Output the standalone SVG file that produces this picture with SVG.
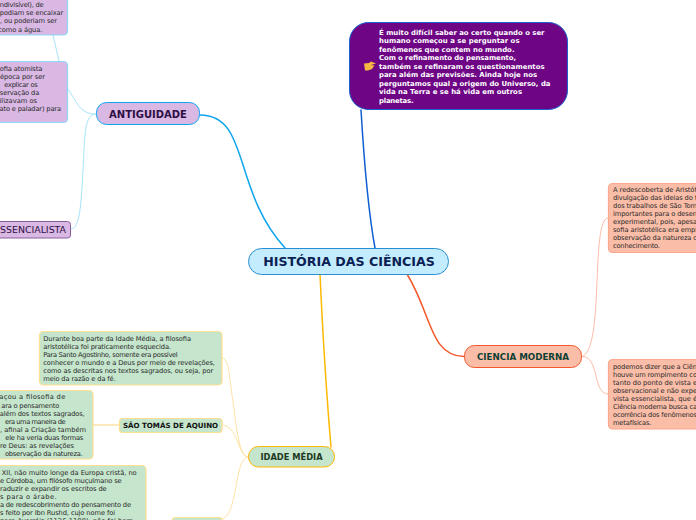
<svg xmlns="http://www.w3.org/2000/svg" width="696" height="520" viewBox="0 0 696 520">
<style>
text{font-family:"DejaVu Sans","Liberation Sans",sans-serif}
.c{fill:none;stroke-linecap:round}
.b{font-size:6.7px;fill:#2b2b2b}
.e{text-anchor:end}
.g{fill:#c5e5cc;stroke:#ffdf90;stroke-width:1.200}
.p{fill:#d9b8e3;stroke:#8fd8f8;stroke-width:1.200}
.o{fill:#fabda8;stroke:#fca88e;stroke-width:1.200}
.m{text-anchor:middle;font-weight:bold}
</style>
<rect width="696" height="520" fill="#fff"/>
<g id="connectors">
<path class="c" stroke="#0ea5ee" stroke-width="1.500" d="M200,115 C250,115 232,190 285,248"/>
<path class="c" stroke="#0d5fd0" stroke-width="1.500" d="M361,110 C364,160 368,210 375,248"/>
<path class="c" stroke="#ffb800" stroke-width="1.500" d="M320,274 C323,340 327,400 331,447"/>
<path class="c" stroke="#f4582a" stroke-width="1.500" d="M407,274 C432,315 430,356 464,356.500"/>
<g stroke="#a5e3fa" stroke-width="1">
<path class="c" d="M53,35 L59,61"/>
<path class="c" d="M96,114 C80,114 78,104 68,89"/>
<path class="c" d="M96,114 C84,114 85,135 83,170 C81,205 80,229 71,229"/>
</g>
<g stroke="#ffe2a6" stroke-width="1">
<path class="c" d="M248,457 C238,457 236,420 232,395 C229,375 229,358 222,358"/>
<path class="c" d="M248,457 C238,457 238,425 222,425"/>
<path class="c" d="M248,457 C234,457 238,517 222,519"/>
<path class="c" stroke-width="1.500" d="M119,425 L93,425"/>
</g>
<g stroke="#fdbda9" stroke-width="1">
<path class="c" d="M582,356.500 C605,350 590,218 608,218"/>
<path class="c" d="M582,356.500 C600,356 592,394 608,394"/>
</g>
</g>
<g id="central">
<rect x="248.500" y="248.500" width="200" height="26" rx="13" fill="#c4ecff" stroke="#2a8fd0"/>
<text class="m" x="349" y="266" font-size="12.600" fill="#0b2154">HISTÓRIA DAS CIÊNCIAS</text>
</g>
<g id="antiguidade">
<rect x="96.500" y="102.500" width="103" height="22" rx="10" fill="#d9b8e3" stroke="#0ea5ee"/>
<text class="m" x="148" y="118" font-size="10" fill="#2d0f45">ANTIGUIDADE</text>
</g>
<g id="nota-roxa">
<rect x="349.500" y="22.500" width="218" height="87" rx="19" fill="#6d0585" stroke="#1a60d0"/>
<path fill="#f5b942" d="M364,63.500 L369,63 L371,61.500 L376,63.500 L371,65 L374.500,65.500 L372,69 L368,70.500 L365,70.500 Z"/>
<g font-size="6.900" font-weight="bold" fill="#fff">
<text x="379" y="35" textLength="165.500">É muito difícil saber ao certo quando o ser</text>
<text x="379" y="43.300" textLength="140.500">humano começou a se perguntar os</text>
<text x="379" y="51.700" textLength="135.500">fenômenos que contem no mundo.</text>
<text x="379" y="60" textLength="137">Com o refinamento do pensamento,</text>
<text x="379" y="68.700" textLength="165.500">também se refinaram os questionamentos</text>
<text x="379" y="77.300" textLength="158">para além das previsões. Ainda hoje nos</text>
<text x="379" y="86" textLength="171.500">perguntamos qual a origem do Universo, da</text>
<text x="379" y="94.400" textLength="143">vida na Terra e se há vida em outros</text>
<text x="379" y="103" textLength="34.500">planetas.</text>
</g>
</g>
<g id="atomos">
<rect x="-20" y="-20" width="87.500" height="55" rx="4" class="p"/>
<g class="b">
<text class="e" x="43.700" y="7" textLength="44">ndivisível), de</text>
<text class="e" x="63.300" y="15" textLength="63.500">podiam se encaixar</text>
<text class="e" x="57" y="23" textLength="57">, ou poderiam ser</text>
<text class="e" x="42.300" y="31.500" textLength="44">como a água.</text>
</g>
</g>
<g id="atomista">
<rect x="-20" y="61.500" width="87.500" height="61" rx="4" class="p"/>
<g class="b">
<text class="e" x="42.300" y="71.200" textLength="42.500">ofia atomista</text>
<text class="e" x="45" y="79.200" textLength="45">época por ser</text>
<text class="e" x="37.700" y="87.200" textLength="33.500">explicar os</text>
<text class="e" x="39.300" y="95.200" textLength="39.500">servação da</text>
<text class="e" x="37" y="103.200" textLength="37.500">ilizavam os</text>
<text class="e" x="61" y="111.200" textLength="61.500">ato e paladar) para</text>
</g>
</g>
<g id="essencialista">
<rect x="-20" y="221.500" width="90.500" height="16.500" rx="3" fill="#d9b8e3" stroke="#8a5f9c"/>
<text class="e" x="66" y="233" font-size="9.400" fill="#2d0f45">SSENCIALISTA</text>
</g>
<g id="idade-media">
<rect x="248.500" y="446.500" width="86" height="20.500" rx="10" fill="#c5e5cc" stroke="#ffb800"/>
<text class="m" x="291.500" y="460" font-size="8.300" fill="#1c3a24">IDADE MÉDIA</text>
</g>
<g id="agostinho">
<rect x="39.500" y="331.500" width="182.500" height="53.500" rx="4" class="g"/>
<g class="b">
<text x="43.300" y="341" textLength="147.700">Durante boa parte da Idade Média, a filosofia</text>
<text x="43.300" y="349" textLength="127.700">aristotélica foi praticamente esquecida.</text>
<text x="43.300" y="357" textLength="134.400">Para Santo Agostinho, somente era possível</text>
<text x="43.300" y="365" textLength="171.700">conhecer o mundo e a Deus por meio de revelações,</text>
<text x="43.300" y="373" textLength="170">como as descritas nos textos sagrados, ou seja, por</text>
<text x="43.300" y="381" textLength="72.400">meio da razão e da fé.</text>
</g>
</g>
<g id="sao-tomas">
<rect x="119.500" y="418.500" width="102.500" height="14" rx="3" class="g"/>
<text class="m" x="170.500" y="428" font-size="7.100" fill="#111">SÃO TOMÁS DE AQUINO</text>
</g>
<g id="tomas-texto">
<rect x="-20" y="390.500" width="113" height="68.500" rx="4" class="g"/>
<g class="b">
<text class="e" x="65.300" y="399.200" textLength="66">açou a filosofia de</text>
<text class="e" x="59.300" y="407.800" textLength="58">ara o pensamento</text>
<text class="e" x="84.700" y="415.800" textLength="85">além dos textos sagrados,</text>
<text class="e" x="65.700" y="423.800" textLength="60.700">era uma maneira de</text>
<text class="e" x="86" y="431.800" textLength="86">, afinal a Criação também</text>
<text class="e" x="83.300" y="439.800" textLength="78">ele ha veria duas formas</text>
<text class="e" x="74" y="447.800" textLength="74">re Deus: as revelações</text>
<text class="e" x="82.700" y="456.200" textLength="77.700">observação da natureza.</text>
</g>
</g>
<g id="averrois">
<rect x="-20" y="465.500" width="166" height="70" rx="4" class="g"/>
<g class="b">
<text class="e" x="136.700" y="474.500" textLength="135">XII, não muito longe da Europa cristã, no</text>
<text class="e" x="121.700" y="482.500" textLength="121.700">e Córdoba, um filósofo muçulmano se</text>
<text class="e" x="106.700" y="491" textLength="106.700">raduzir e expandir os escritos de</text>
<text class="e" x="56.700" y="499" textLength="56.700">s para o árabe.</text>
<text class="e" x="131" y="507" textLength="131">a de redescobrimento do pensamento de</text>
<text class="e" x="115" y="515" textLength="115">s feito por Ibn Rushd, cujo nome foi</text>
<text class="e" x="133" y="523" textLength="133">para Averróis (1126-1198), não foi bem</text>
</g>
</g>
<g id="arabes">
<rect x="172.500" y="517.500" width="49.500" height="14" rx="3" class="g"/>
</g>
<g id="ciencia-moderna">
<rect x="464.500" y="345.500" width="117" height="22" rx="10" fill="#fabda8" stroke="#f4582a"/>
<text class="m" x="523" y="360" font-size="8.700" fill="#0d3f33">CIENCIA MODERNA</text>
</g>
<g id="redescoberta">
<rect x="608.500" y="183.500" width="120" height="69" rx="4" class="o"/>
<g class="b">
<text x="613" y="191.500" textLength="84">A redescoberta de Aristót</text>
<text x="613" y="200" textLength="84">divulgação das ideias do f</text>
<text x="613" y="208" textLength="84">dos trabalhos de São Tom</text>
<text x="613" y="216" textLength="84">importantes para o desen</text>
<text x="613" y="224" textLength="84">experimental, pois, apesa</text>
<text x="613" y="232" textLength="84">sofia aristotélica era empi</text>
<text x="613" y="240" textLength="84">observação da natureza c</text>
<text x="613" y="248" textLength="47">conhecimento.</text>
</g>
</g>
<g id="rompimento">
<rect x="608.500" y="359.500" width="120" height="69.500" rx="4" class="o"/>
<g class="b">
<text x="613" y="368.500" textLength="84">podemos dizer que a Ciên</text>
<text x="613" y="376.500" textLength="84">houve um rompimento co</text>
<text x="613" y="384.500" textLength="84">tanto do ponto de vista e</text>
<text x="613" y="392.500" textLength="84">observacional e não expe</text>
<text x="613" y="400.500" textLength="84">vista essencialista, que é</text>
<text x="613" y="408.500" textLength="84">Ciência moderna busca ca</text>
<text x="613" y="416.800" textLength="84">ocorrência dos fenômenos</text>
<text x="613" y="424.800" textLength="38.500">metafísicas.</text>
</g>
</g>
</svg>
